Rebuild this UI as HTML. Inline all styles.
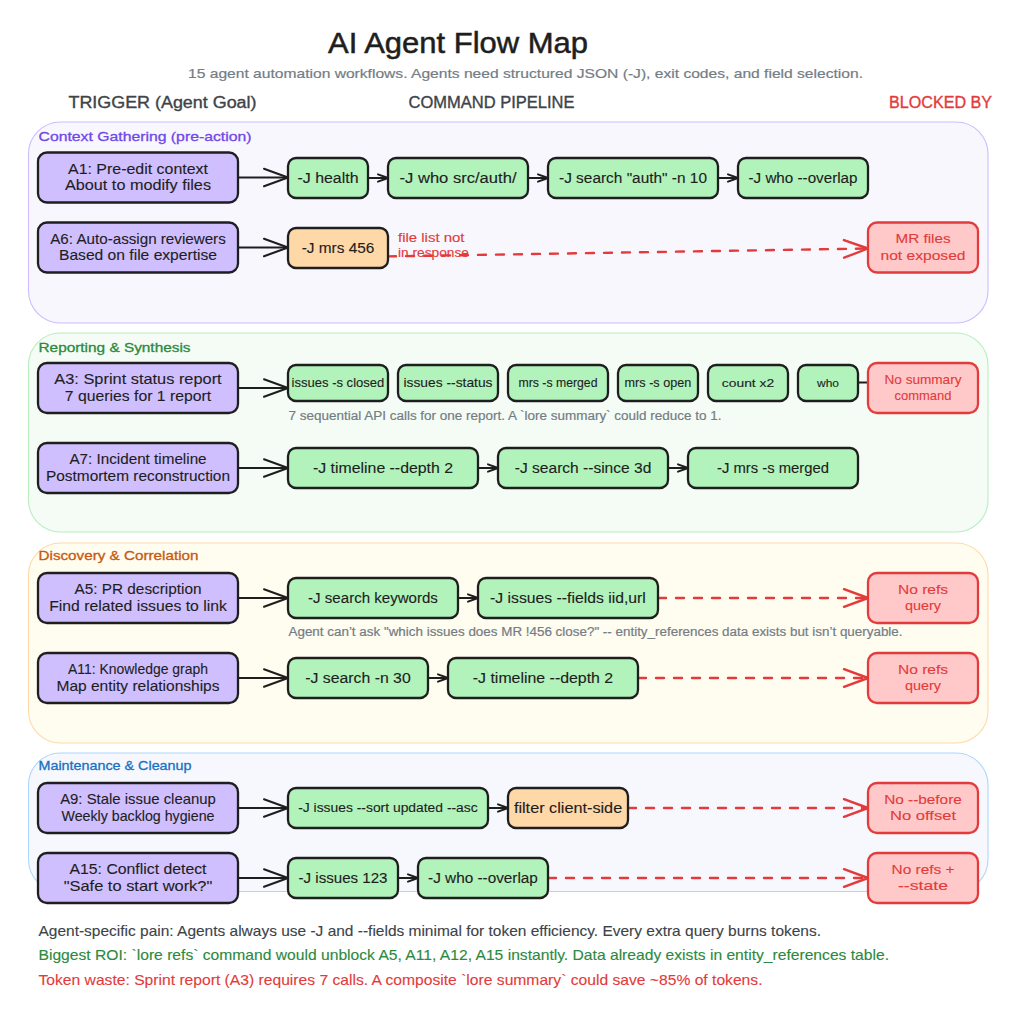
<!DOCTYPE html>
<html><head><meta charset="utf-8"><title>AI Agent Flow Map</title>
<style>
html,body{margin:0;padding:0;background:#ffffff;}
body{width:1010px;height:1019px;overflow:hidden;}
svg{display:block;font-family:"Liberation Sans", sans-serif;}
</style></head><body>
<svg width="1010" height="1019" viewBox="0 0 1010 1019">
<rect x="0" y="0" width="1010" height="1019" fill="#ffffff"/>
<text x="328" y="53" font-size="29" fill="#1e1e1e" stroke="#1e1e1e" stroke-width="0.5" textLength="260" lengthAdjust="spacingAndGlyphs">AI Agent Flow Map</text>
<text x="188" y="78" font-size="13.5" fill="#747c85" stroke="#747c85" stroke-width="0.2" textLength="675" lengthAdjust="spacingAndGlyphs">15 agent automation workflows. Agents need structured JSON (-J), exit codes, and field selection.</text>
<text x="68.5" y="107.5" font-size="16" fill="#3d4349" stroke="#3d4349" stroke-width="0.35" textLength="188" lengthAdjust="spacingAndGlyphs">TRIGGER (Agent Goal)</text>
<text x="408.5" y="107.5" font-size="16" fill="#3d4349" stroke="#3d4349" stroke-width="0.35" textLength="166" lengthAdjust="spacingAndGlyphs">COMMAND PIPELINE</text>
<text x="889" y="107.5" font-size="16" fill="#e33b3b" stroke="#e33b3b" stroke-width="0.35" textLength="103" lengthAdjust="spacingAndGlyphs">BLOCKED BY</text>
<rect x="28.5" y="122" width="959.5" height="201" rx="32" ry="32" fill="#f8f7fe" stroke="#cdbcff" stroke-width="1.1" />
<rect x="28.5" y="333" width="959.5" height="199" rx="32" ry="32" fill="#f5fcf6" stroke="#b6eebf" stroke-width="1.1" />
<rect x="28.5" y="543" width="959.5" height="200" rx="32" ry="32" fill="#fffcf0" stroke="#ffdaa8" stroke-width="1.1" />
<rect x="28.5" y="753" width="959.5" height="138.5" rx="32" ry="32" fill="#f6f8fe" stroke="#aed6fb" stroke-width="1.1" />
<line x1="238" y1="177.5" x2="288" y2="177.5" stroke="#1e1e1e" stroke-width="2" stroke-linecap="round"/>
<polyline points="264.0,168.7 288,177.5 264.0,186.3" fill="none" stroke="#1e1e1e" stroke-width="2" stroke-linecap="round" stroke-linejoin="round"/>
<line x1="238" y1="247.5" x2="288" y2="247.5" stroke="#1e1e1e" stroke-width="2" stroke-linecap="round"/>
<polyline points="264.0,238.7 288,247.5 264.0,256.3" fill="none" stroke="#1e1e1e" stroke-width="2" stroke-linecap="round" stroke-linejoin="round"/>
<line x1="238" y1="388" x2="288" y2="388" stroke="#1e1e1e" stroke-width="2" stroke-linecap="round"/>
<polyline points="264.0,379.2 288,388 264.0,396.8" fill="none" stroke="#1e1e1e" stroke-width="2" stroke-linecap="round" stroke-linejoin="round"/>
<line x1="238" y1="468" x2="288" y2="468" stroke="#1e1e1e" stroke-width="2" stroke-linecap="round"/>
<polyline points="264.0,459.2 288,468 264.0,476.8" fill="none" stroke="#1e1e1e" stroke-width="2" stroke-linecap="round" stroke-linejoin="round"/>
<line x1="238" y1="598" x2="288" y2="598" stroke="#1e1e1e" stroke-width="2" stroke-linecap="round"/>
<polyline points="264.0,589.2 288,598 264.0,606.8" fill="none" stroke="#1e1e1e" stroke-width="2" stroke-linecap="round" stroke-linejoin="round"/>
<line x1="238" y1="678" x2="288" y2="678" stroke="#1e1e1e" stroke-width="2" stroke-linecap="round"/>
<polyline points="264.0,669.2 288,678 264.0,686.8" fill="none" stroke="#1e1e1e" stroke-width="2" stroke-linecap="round" stroke-linejoin="round"/>
<line x1="238" y1="808" x2="288" y2="808" stroke="#1e1e1e" stroke-width="2" stroke-linecap="round"/>
<polyline points="264.0,799.2 288,808 264.0,816.8" fill="none" stroke="#1e1e1e" stroke-width="2" stroke-linecap="round" stroke-linejoin="round"/>
<line x1="238" y1="878" x2="288" y2="878" stroke="#1e1e1e" stroke-width="2" stroke-linecap="round"/>
<polyline points="264.0,869.2 288,878 264.0,886.8" fill="none" stroke="#1e1e1e" stroke-width="2" stroke-linecap="round" stroke-linejoin="round"/>
<line x1="368" y1="178" x2="388" y2="178" stroke="#1e1e1e" stroke-width="2" stroke-linecap="round"/>
<polyline points="378.0,174.4 388,178 378.0,181.6" fill="none" stroke="#1e1e1e" stroke-width="2" stroke-linecap="round" stroke-linejoin="round"/>
<line x1="528" y1="178" x2="548" y2="178" stroke="#1e1e1e" stroke-width="2" stroke-linecap="round"/>
<polyline points="538.0,174.4 548,178 538.0,181.6" fill="none" stroke="#1e1e1e" stroke-width="2" stroke-linecap="round" stroke-linejoin="round"/>
<line x1="718" y1="178" x2="738" y2="178" stroke="#1e1e1e" stroke-width="2" stroke-linecap="round"/>
<polyline points="728.0,174.4 738,178 728.0,181.6" fill="none" stroke="#1e1e1e" stroke-width="2" stroke-linecap="round" stroke-linejoin="round"/>
<line x1="478" y1="468" x2="498" y2="468" stroke="#1e1e1e" stroke-width="2" stroke-linecap="round"/>
<polyline points="488.0,464.4 498,468 488.0,471.6" fill="none" stroke="#1e1e1e" stroke-width="2" stroke-linecap="round" stroke-linejoin="round"/>
<line x1="668" y1="468" x2="688" y2="468" stroke="#1e1e1e" stroke-width="2" stroke-linecap="round"/>
<polyline points="678.0,464.4 688,468 678.0,471.6" fill="none" stroke="#1e1e1e" stroke-width="2" stroke-linecap="round" stroke-linejoin="round"/>
<line x1="458" y1="598" x2="478" y2="598" stroke="#1e1e1e" stroke-width="2" stroke-linecap="round"/>
<polyline points="468.0,594.4 478,598 468.0,601.6" fill="none" stroke="#1e1e1e" stroke-width="2" stroke-linecap="round" stroke-linejoin="round"/>
<line x1="428" y1="678" x2="448" y2="678" stroke="#1e1e1e" stroke-width="2" stroke-linecap="round"/>
<polyline points="438.0,674.4 448,678 438.0,681.6" fill="none" stroke="#1e1e1e" stroke-width="2" stroke-linecap="round" stroke-linejoin="round"/>
<line x1="488" y1="808" x2="508" y2="808" stroke="#1e1e1e" stroke-width="2" stroke-linecap="round"/>
<polyline points="498.0,804.4 508,808 498.0,811.6" fill="none" stroke="#1e1e1e" stroke-width="2" stroke-linecap="round" stroke-linejoin="round"/>
<line x1="398" y1="878" x2="418" y2="878" stroke="#1e1e1e" stroke-width="2" stroke-linecap="round"/>
<polyline points="408.0,874.4 418,878 408.0,881.6" fill="none" stroke="#1e1e1e" stroke-width="2" stroke-linecap="round" stroke-linejoin="round"/>
<line x1="858" y1="382.5" x2="868" y2="382.5" stroke="#1e1e1e" stroke-width="2" stroke-linecap="round"/>
<line x1="388" y1="256.4" x2="868" y2="248.5" stroke="#e33b3b" stroke-width="2.4" stroke-dasharray="8 10" stroke-linecap="round"/>
<polyline points="843.9,240.1 868,248.5 844.1,257.7" fill="none" stroke="#e33b3b" stroke-width="2.4" stroke-linecap="round" stroke-linejoin="round"/>
<line x1="658" y1="598" x2="868" y2="598" stroke="#e33b3b" stroke-width="2.4" stroke-dasharray="8 10" stroke-linecap="round"/>
<polyline points="844.0,589.2 868,598 844.0,606.8" fill="none" stroke="#e33b3b" stroke-width="2.4" stroke-linecap="round" stroke-linejoin="round"/>
<line x1="638" y1="678" x2="868" y2="678" stroke="#e33b3b" stroke-width="2.4" stroke-dasharray="8 10" stroke-linecap="round"/>
<polyline points="844.0,669.2 868,678 844.0,686.8" fill="none" stroke="#e33b3b" stroke-width="2.4" stroke-linecap="round" stroke-linejoin="round"/>
<line x1="628" y1="808" x2="868" y2="808" stroke="#e33b3b" stroke-width="2.4" stroke-dasharray="8 10" stroke-linecap="round"/>
<polyline points="844.0,799.2 868,808 844.0,816.8" fill="none" stroke="#e33b3b" stroke-width="2.4" stroke-linecap="round" stroke-linejoin="round"/>
<line x1="548" y1="878" x2="868" y2="878" stroke="#e33b3b" stroke-width="2.4" stroke-dasharray="8 10" stroke-linecap="round"/>
<polyline points="844.0,869.2 868,878 844.0,886.8" fill="none" stroke="#e33b3b" stroke-width="2.4" stroke-linecap="round" stroke-linejoin="round"/>
<text x="38.5" y="141" font-size="13" fill="#7048e8" stroke="#7048e8" stroke-width="0.3" textLength="213" lengthAdjust="spacingAndGlyphs">Context Gathering (pre-action)</text>
<text x="38.5" y="351.5" font-size="13" fill="#2b8a3e" stroke="#2b8a3e" stroke-width="0.3" textLength="152" lengthAdjust="spacingAndGlyphs">Reporting &amp; Synthesis</text>
<text x="38.5" y="560" font-size="13" fill="#c8590f" stroke="#c8590f" stroke-width="0.3" textLength="160" lengthAdjust="spacingAndGlyphs">Discovery &amp; Correlation</text>
<text x="38.5" y="770" font-size="13" fill="#1971c2" stroke="#1971c2" stroke-width="0.3" textLength="153" lengthAdjust="spacingAndGlyphs">Maintenance &amp; Cleanup</text>
<rect x="38" y="152.5" width="200" height="50.0" rx="9" ry="9" fill="#d0bfff" stroke="#1e1e1e" stroke-width="2.3" />
<text x="68.0" y="173.7" font-size="14.5" fill="#1e1e1e" stroke="#1e1e1e" stroke-width="0.12" textLength="140" lengthAdjust="spacingAndGlyphs">A1: Pre-edit context</text>
<text x="65.0" y="190.4" font-size="14.5" fill="#1e1e1e" stroke="#1e1e1e" stroke-width="0.12" textLength="146" lengthAdjust="spacingAndGlyphs">About to modify files</text>
<rect x="38" y="222.5" width="200" height="50.0" rx="9" ry="9" fill="#d0bfff" stroke="#1e1e1e" stroke-width="2.3" />
<text x="50.25" y="243.7" font-size="14.5" fill="#1e1e1e" stroke="#1e1e1e" stroke-width="0.12" textLength="175.5" lengthAdjust="spacingAndGlyphs">A6: Auto-assign reviewers</text>
<text x="59.0" y="260.4" font-size="14.5" fill="#1e1e1e" stroke="#1e1e1e" stroke-width="0.12" textLength="158" lengthAdjust="spacingAndGlyphs">Based on file expertise</text>
<rect x="38" y="363" width="200" height="50" rx="9" ry="9" fill="#d0bfff" stroke="#1e1e1e" stroke-width="2.3" />
<text x="54.349999999999994" y="384.2" font-size="14.5" fill="#1e1e1e" stroke="#1e1e1e" stroke-width="0.12" textLength="167.3" lengthAdjust="spacingAndGlyphs">A3: Sprint status report</text>
<text x="64.85" y="400.9" font-size="14.5" fill="#1e1e1e" stroke="#1e1e1e" stroke-width="0.12" textLength="146.3" lengthAdjust="spacingAndGlyphs">7 queries for 1 report</text>
<rect x="38" y="443" width="200" height="50" rx="9" ry="9" fill="#d0bfff" stroke="#1e1e1e" stroke-width="2.3" />
<text x="69.4" y="464.2" font-size="14.5" fill="#1e1e1e" stroke="#1e1e1e" stroke-width="0.12" textLength="137.2" lengthAdjust="spacingAndGlyphs">A7: Incident timeline</text>
<text x="46.0" y="480.9" font-size="14.5" fill="#1e1e1e" stroke="#1e1e1e" stroke-width="0.12" textLength="184" lengthAdjust="spacingAndGlyphs">Postmortem reconstruction</text>
<rect x="38" y="573" width="200" height="50" rx="9" ry="9" fill="#d0bfff" stroke="#1e1e1e" stroke-width="2.3" />
<text x="74.5" y="594.2" font-size="14.5" fill="#1e1e1e" stroke="#1e1e1e" stroke-width="0.12" textLength="127" lengthAdjust="spacingAndGlyphs">A5: PR description</text>
<text x="49.25" y="610.9" font-size="14.5" fill="#1e1e1e" stroke="#1e1e1e" stroke-width="0.12" textLength="177.5" lengthAdjust="spacingAndGlyphs">Find related issues to link</text>
<rect x="38" y="653" width="200" height="50" rx="9" ry="9" fill="#d0bfff" stroke="#1e1e1e" stroke-width="2.3" />
<text x="68.0" y="674.2" font-size="14.5" fill="#1e1e1e" stroke="#1e1e1e" stroke-width="0.12" textLength="140" lengthAdjust="spacingAndGlyphs">A11: Knowledge graph</text>
<text x="56.5" y="690.9" font-size="14.5" fill="#1e1e1e" stroke="#1e1e1e" stroke-width="0.12" textLength="163" lengthAdjust="spacingAndGlyphs">Map entity relationships</text>
<rect x="38" y="783" width="200" height="50" rx="9" ry="9" fill="#d0bfff" stroke="#1e1e1e" stroke-width="2.3" />
<text x="60.150000000000006" y="804.2" font-size="14.5" fill="#1e1e1e" stroke="#1e1e1e" stroke-width="0.12" textLength="155.7" lengthAdjust="spacingAndGlyphs">A9: Stale issue cleanup</text>
<text x="61.5" y="820.9" font-size="14.5" fill="#1e1e1e" stroke="#1e1e1e" stroke-width="0.12" textLength="153" lengthAdjust="spacingAndGlyphs">Weekly backlog hygiene</text>
<rect x="38" y="853" width="200" height="50" rx="9" ry="9" fill="#d0bfff" stroke="#1e1e1e" stroke-width="2.3" />
<text x="69.5" y="874.2" font-size="14.5" fill="#1e1e1e" stroke="#1e1e1e" stroke-width="0.12" textLength="137" lengthAdjust="spacingAndGlyphs">A15: Conflict detect</text>
<text x="63.7" y="890.9" font-size="14.5" fill="#1e1e1e" stroke="#1e1e1e" stroke-width="0.12" textLength="148.6" lengthAdjust="spacingAndGlyphs">&quot;Safe to start work?&quot;</text>
<rect x="288" y="158.0" width="80" height="40.0" rx="8" ry="8" fill="#b2f2bb" stroke="#1e1e1e" stroke-width="2.3" />
<text x="297.5" y="182.5" font-size="14" fill="#1e1e1e" stroke="#1e1e1e" stroke-width="0.12" textLength="61" lengthAdjust="spacingAndGlyphs">-J health</text>
<rect x="388" y="158.0" width="140" height="40.0" rx="8" ry="8" fill="#b2f2bb" stroke="#1e1e1e" stroke-width="2.3" />
<text x="399.5" y="182.5" font-size="14" fill="#1e1e1e" stroke="#1e1e1e" stroke-width="0.12" textLength="117" lengthAdjust="spacingAndGlyphs">-J who src/auth/</text>
<rect x="548" y="158.0" width="170" height="40.0" rx="8" ry="8" fill="#b2f2bb" stroke="#1e1e1e" stroke-width="2.3" />
<text x="559.0" y="182.5" font-size="14" fill="#1e1e1e" stroke="#1e1e1e" stroke-width="0.12" textLength="148" lengthAdjust="spacingAndGlyphs">-J search &quot;auth&quot; -n 10</text>
<rect x="738" y="158.0" width="130" height="40.0" rx="8" ry="8" fill="#b2f2bb" stroke="#1e1e1e" stroke-width="2.3" />
<text x="748.5" y="182.5" font-size="14" fill="#1e1e1e" stroke="#1e1e1e" stroke-width="0.12" textLength="109" lengthAdjust="spacingAndGlyphs">-J who --overlap</text>
<rect x="288" y="228.0" width="100" height="40.0" rx="8" ry="8" fill="#ffd8a8" stroke="#1e1e1e" stroke-width="2.3" />
<text x="301.7" y="252.5" font-size="14" fill="#1e1e1e" stroke="#1e1e1e" stroke-width="0.12" textLength="72.6" lengthAdjust="spacingAndGlyphs">-J mrs 456</text>
<rect x="288" y="365.0" width="100" height="36.0" rx="8" ry="8" fill="#b2f2bb" stroke="#1e1e1e" stroke-width="2.3" />
<text x="291.6" y="386.5" font-size="13" fill="#1e1e1e" stroke="#1e1e1e" stroke-width="0.12" textLength="92.7" lengthAdjust="spacingAndGlyphs">issues -s closed</text>
<rect x="398" y="365.0" width="100" height="36.0" rx="8" ry="8" fill="#b2f2bb" stroke="#1e1e1e" stroke-width="2.3" />
<text x="403.5" y="386.5" font-size="13" fill="#1e1e1e" stroke="#1e1e1e" stroke-width="0.12" textLength="89" lengthAdjust="spacingAndGlyphs">issues --status</text>
<rect x="508" y="365.0" width="100" height="36.0" rx="8" ry="8" fill="#b2f2bb" stroke="#1e1e1e" stroke-width="2.3" />
<text x="518.5" y="386.5" font-size="12.5" fill="#1e1e1e" stroke="#1e1e1e" stroke-width="0.12" textLength="79" lengthAdjust="spacingAndGlyphs">mrs -s merged</text>
<rect x="618" y="365.0" width="80" height="36.0" rx="8" ry="8" fill="#b2f2bb" stroke="#1e1e1e" stroke-width="2.3" />
<text x="624.6" y="386.5" font-size="12.5" fill="#1e1e1e" stroke="#1e1e1e" stroke-width="0.12" textLength="66.7" lengthAdjust="spacingAndGlyphs">mrs -s open</text>
<rect x="708" y="365.0" width="80" height="36.0" rx="8" ry="8" fill="#b2f2bb" stroke="#1e1e1e" stroke-width="2.3" />
<text x="721.8" y="386.5" font-size="11.5" fill="#1e1e1e" stroke="#1e1e1e" stroke-width="0.12" textLength="52.4" lengthAdjust="spacingAndGlyphs">count x2</text>
<rect x="798" y="365.0" width="60" height="36.0" rx="8" ry="8" fill="#b2f2bb" stroke="#1e1e1e" stroke-width="2.3" />
<text x="817.0" y="386.5" font-size="11.5" fill="#1e1e1e" stroke="#1e1e1e" stroke-width="0.12" textLength="22" lengthAdjust="spacingAndGlyphs">who</text>
<rect x="288" y="448.0" width="190" height="40.0" rx="8" ry="8" fill="#b2f2bb" stroke="#1e1e1e" stroke-width="2.3" />
<text x="313.0" y="472.5" font-size="14" fill="#1e1e1e" stroke="#1e1e1e" stroke-width="0.12" textLength="140" lengthAdjust="spacingAndGlyphs">-J timeline --depth 2</text>
<rect x="498" y="448.0" width="170" height="40.0" rx="8" ry="8" fill="#b2f2bb" stroke="#1e1e1e" stroke-width="2.3" />
<text x="514.8" y="472.5" font-size="14" fill="#1e1e1e" stroke="#1e1e1e" stroke-width="0.12" textLength="136.5" lengthAdjust="spacingAndGlyphs">-J search --since 3d</text>
<rect x="688" y="448.0" width="170" height="40.0" rx="8" ry="8" fill="#b2f2bb" stroke="#1e1e1e" stroke-width="2.3" />
<text x="717.0" y="472.5" font-size="14" fill="#1e1e1e" stroke="#1e1e1e" stroke-width="0.12" textLength="112" lengthAdjust="spacingAndGlyphs">-J mrs -s merged</text>
<rect x="288" y="578.0" width="170" height="40.0" rx="8" ry="8" fill="#b2f2bb" stroke="#1e1e1e" stroke-width="2.3" />
<text x="308.1" y="602.5" font-size="14" fill="#1e1e1e" stroke="#1e1e1e" stroke-width="0.12" textLength="129.8" lengthAdjust="spacingAndGlyphs">-J search keywords</text>
<rect x="478" y="578.0" width="180" height="40.0" rx="8" ry="8" fill="#b2f2bb" stroke="#1e1e1e" stroke-width="2.3" />
<text x="490.1" y="602.5" font-size="14" fill="#1e1e1e" stroke="#1e1e1e" stroke-width="0.12" textLength="155.7" lengthAdjust="spacingAndGlyphs">-J issues --fields iid,url</text>
<rect x="288" y="658.0" width="140" height="40.0" rx="8" ry="8" fill="#b2f2bb" stroke="#1e1e1e" stroke-width="2.3" />
<text x="305.3" y="682.5" font-size="14" fill="#1e1e1e" stroke="#1e1e1e" stroke-width="0.12" textLength="105.4" lengthAdjust="spacingAndGlyphs">-J search -n 30</text>
<rect x="448" y="658.0" width="190" height="40.0" rx="8" ry="8" fill="#b2f2bb" stroke="#1e1e1e" stroke-width="2.3" />
<text x="472.8" y="682.5" font-size="14" fill="#1e1e1e" stroke="#1e1e1e" stroke-width="0.12" textLength="140.4" lengthAdjust="spacingAndGlyphs">-J timeline --depth 2</text>
<rect x="288" y="788.0" width="200" height="40.0" rx="8" ry="8" fill="#b2f2bb" stroke="#1e1e1e" stroke-width="2.3" />
<text x="298.2" y="812.0" font-size="12.5" fill="#1e1e1e" stroke="#1e1e1e" stroke-width="0.12" textLength="179.5" lengthAdjust="spacingAndGlyphs">-J issues --sort updated --asc</text>
<rect x="508" y="788.0" width="120" height="40.0" rx="8" ry="8" fill="#ffd8a8" stroke="#1e1e1e" stroke-width="2.3" />
<text x="513.9" y="812.5" font-size="14" fill="#1e1e1e" stroke="#1e1e1e" stroke-width="0.12" textLength="108.3" lengthAdjust="spacingAndGlyphs">filter client-side</text>
<rect x="288" y="858.0" width="110" height="40.0" rx="8" ry="8" fill="#b2f2bb" stroke="#1e1e1e" stroke-width="2.3" />
<text x="298.5" y="882.5" font-size="14" fill="#1e1e1e" stroke="#1e1e1e" stroke-width="0.12" textLength="89" lengthAdjust="spacingAndGlyphs">-J issues 123</text>
<rect x="418" y="858.0" width="130" height="40.0" rx="8" ry="8" fill="#b2f2bb" stroke="#1e1e1e" stroke-width="2.3" />
<text x="428.1" y="882.5" font-size="14" fill="#1e1e1e" stroke="#1e1e1e" stroke-width="0.12" textLength="109.8" lengthAdjust="spacingAndGlyphs">-J who --overlap</text>
<rect x="868" y="222.5" width="110" height="50.0" rx="9" ry="9" fill="#ffc9c9" stroke="#e33b3b" stroke-width="2.3" />
<text x="895.5" y="243.3" font-size="13" fill="#e33b3b" stroke="#e33b3b" stroke-width="0.12" textLength="55" lengthAdjust="spacingAndGlyphs">MR files</text>
<text x="880.5" y="259.7" font-size="13" fill="#e33b3b" stroke="#e33b3b" stroke-width="0.12" textLength="85" lengthAdjust="spacingAndGlyphs">not exposed</text>
<rect x="868" y="363" width="110" height="50" rx="9" ry="9" fill="#ffc9c9" stroke="#e33b3b" stroke-width="2.3" />
<text x="884.5" y="383.8" font-size="13" fill="#e33b3b" stroke="#e33b3b" stroke-width="0.12" textLength="77" lengthAdjust="spacingAndGlyphs">No summary</text>
<text x="894.5" y="400.2" font-size="13" fill="#e33b3b" stroke="#e33b3b" stroke-width="0.12" textLength="57" lengthAdjust="spacingAndGlyphs">command</text>
<rect x="868" y="573" width="110" height="50" rx="9" ry="9" fill="#ffc9c9" stroke="#e33b3b" stroke-width="2.3" />
<text x="898.0" y="593.8" font-size="13" fill="#e33b3b" stroke="#e33b3b" stroke-width="0.12" textLength="50" lengthAdjust="spacingAndGlyphs">No refs</text>
<text x="905.0" y="610.2" font-size="13" fill="#e33b3b" stroke="#e33b3b" stroke-width="0.12" textLength="36" lengthAdjust="spacingAndGlyphs">query</text>
<rect x="868" y="653" width="110" height="50" rx="9" ry="9" fill="#ffc9c9" stroke="#e33b3b" stroke-width="2.3" />
<text x="898.0" y="673.8" font-size="13" fill="#e33b3b" stroke="#e33b3b" stroke-width="0.12" textLength="50" lengthAdjust="spacingAndGlyphs">No refs</text>
<text x="905.0" y="690.2" font-size="13" fill="#e33b3b" stroke="#e33b3b" stroke-width="0.12" textLength="36" lengthAdjust="spacingAndGlyphs">query</text>
<rect x="868" y="783" width="110" height="50" rx="9" ry="9" fill="#ffc9c9" stroke="#e33b3b" stroke-width="2.3" />
<text x="884.2" y="803.8" font-size="13" fill="#e33b3b" stroke="#e33b3b" stroke-width="0.12" textLength="77.6" lengthAdjust="spacingAndGlyphs">No --before</text>
<text x="890.0" y="820.2" font-size="13" fill="#e33b3b" stroke="#e33b3b" stroke-width="0.12" textLength="66" lengthAdjust="spacingAndGlyphs">No offset</text>
<rect x="868" y="853" width="110" height="50" rx="9" ry="9" fill="#ffc9c9" stroke="#e33b3b" stroke-width="2.3" />
<text x="891.5" y="873.8" font-size="13" fill="#e33b3b" stroke="#e33b3b" stroke-width="0.12" textLength="63" lengthAdjust="spacingAndGlyphs">No refs +</text>
<text x="898.0" y="890.2" font-size="13" fill="#e33b3b" stroke="#e33b3b" stroke-width="0.12" textLength="50" lengthAdjust="spacingAndGlyphs">--state</text>
<text x="398" y="242" font-size="12" fill="#e33b3b" stroke="#e33b3b" stroke-width="0.12" textLength="66.5" lengthAdjust="spacingAndGlyphs">file list not</text>
<text x="398" y="257" font-size="12" fill="#e33b3b" stroke="#e33b3b" stroke-width="0.12" textLength="71" lengthAdjust="spacingAndGlyphs">in response</text>
<text x="288.5" y="419.5" font-size="12.5" fill="#747c85" stroke="#747c85" stroke-width="0.2" textLength="433" lengthAdjust="spacingAndGlyphs">7 sequential API calls for one report. A `lore summary` could reduce to 1.</text>
<text x="288.5" y="636" font-size="12.5" fill="#747c85" stroke="#747c85" stroke-width="0.2" textLength="614" lengthAdjust="spacingAndGlyphs">Agent can’t ask &quot;which issues does MR !456 close?&quot; -- entity_references data exists but isn’t queryable.</text>
<text x="38.5" y="935.5" font-size="14.5" fill="#3d4349" stroke="#3d4349" stroke-width="0.12" textLength="782.5" lengthAdjust="spacingAndGlyphs">Agent-specific pain: Agents always use -J and --fields minimal for token efficiency. Every extra query burns tokens.</text>
<text x="38.5" y="960" font-size="14.5" fill="#2b8a3e" stroke="#2b8a3e" stroke-width="0.12" textLength="850.5" lengthAdjust="spacingAndGlyphs">Biggest ROI: `lore refs` command would unblock A5, A11, A12, A15 instantly. Data already exists in entity_references table.</text>
<text x="38.5" y="985" font-size="14.5" fill="#e33b3b" stroke="#e33b3b" stroke-width="0.12" textLength="724" lengthAdjust="spacingAndGlyphs">Token waste: Sprint report (A3) requires 7 calls. A composite `lore summary` could save ~85% of tokens.</text>
</svg>
</body></html>
